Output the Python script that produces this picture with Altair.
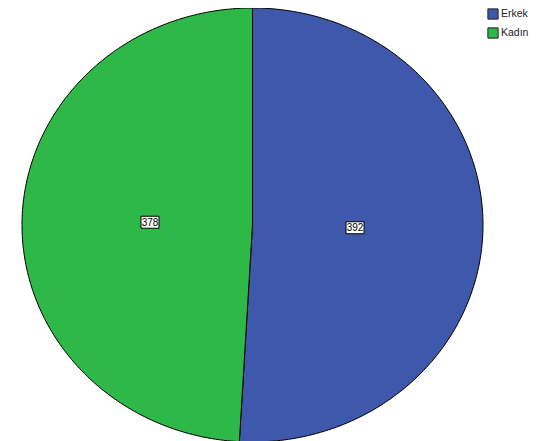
import altair as alt
import pandas as pd

# --- data ---
categories = ["Erkek", "Kadın"]
counts = [392, 378]
colors = ["#3E58AC", "#2EB848"]

df = pd.DataFrame({"cinsiyet": categories, "n": counts})

W, H = 461, 434

xscale = alt.Scale(domain=[-1, 1], nice=False, zero=False)
yscale = alt.Scale(domain=[-1, 1], nice=False, zero=False)
cscale = alt.Scale(domain=categories, range=colors)

base = alt.Chart(df).transform_window(
    cum="sum(n)", frame=[None, 0]
).transform_joinaggregate(
    total="sum(n)"
).transform_calculate(
    a0="2*PI*(datum.cum - datum.n)/datum.total",
    a1="2*PI*datum.cum/datum.total",
)

slices = base.transform_calculate(
    k="sequence(0, 181)"
).transform_flatten(["k"]).transform_calculate(
    ang="datum.a0 + (datum.a1 - datum.a0) * (datum.k - 1) / 179",
    px="datum.k == 0 ? 0 : sin(datum.ang)",
    py="datum.k == 0 ? 0 : cos(datum.ang)",
).mark_line(
    interpolate="linear-closed", filled=True, stroke="black",
    strokeWidth=1, strokeOpacity=1, opacity=1
).encode(
    x=alt.X("px:Q", scale=xscale, axis=None),
    y=alt.Y("py:Q", scale=yscale, axis=None),
    order=alt.Order("k:Q"),
    color=alt.Color(
        "cinsiyet:N", scale=cscale, sort=categories,
        legend=alt.Legend(
            title=None, orient="none", legendX=465, legendY=0,
            symbolType="square", symbolSize=105,
            symbolStrokeColor="#222", symbolStrokeWidth=1,
            symbolOpacity=1,
            labelFont="Liberation Sans", labelFontSize=10.5,
            labelColor="#222", rowPadding=3, labelOffset=2, padding=0,
        ),
    ),
    detail="cinsiyet:N",
)

labels = base.transform_calculate(
    mid="(datum.a0 + datum.a1)/2",
    lx="0.445*sin(datum.mid)",
    ly="0.445*cos(datum.mid)",
)

boxes = labels.mark_rect(
    fill="white", stroke="black", strokeWidth=1,
    xOffset=-9, x2Offset=9, yOffset=-6, y2Offset=6,
).encode(
    x=alt.X("lx:Q", scale=xscale, axis=None),
    x2="lx:Q",
    y=alt.Y("ly:Q", scale=yscale, axis=None),
    y2="ly:Q",
)

texts = labels.mark_text(
    font="Liberation Sans", fontSize=10, color="black",
    align="center", baseline="middle", dy=0.5,
).encode(
    x=alt.X("lx:Q", scale=xscale, axis=None),
    y=alt.Y("ly:Q", scale=yscale, axis=None),
    text=alt.Text("n:Q"),
)

chart = alt.layer(slices, boxes, texts).properties(
    width=W, height=H,
    autosize=alt.AutoSizeParams(type="none"),
    padding={"left": 14, "top": 0, "right": 52, "bottom": 0},
).configure(
    background="white",
    view=alt.ViewConfig(stroke="transparent", strokeWidth=0),
)

chart.save("out.html", embed_options={"renderer": "svg", "actions": False})
